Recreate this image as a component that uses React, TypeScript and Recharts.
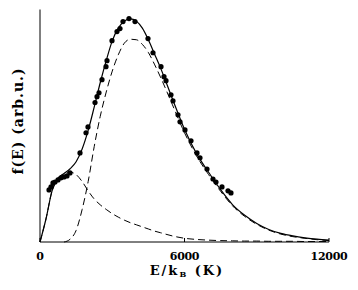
import React from "react";
import {
  ComposedChart,
  Line,
  Scatter,
  XAxis,
  YAxis,
} from "recharts";

// energy grid for the fitted curves (K)
const energies = [
  0, 250, 500, 750, 1000, 1250, 1500, 1750, 2000, 2250, 2500, 2750, 3000,
  3250, 3500, 3750, 4000, 4250, 4500, 4750, 5000, 5500, 6000, 6500, 7000,
  7500, 8000, 8500, 9000, 9500, 10000, 10500, 11000, 11500, 12000,
];

// total fit (solid)
const fitTotal = [
  0, 0.1, 0.22, 0.275, 0.295, 0.315, 0.345, 0.4, 0.48, 0.58, 0.685, 0.78,
  0.865, 0.92, 0.95, 0.96, 0.95, 0.92, 0.87, 0.81, 0.75, 0.615, 0.485, 0.38,
  0.3, 0.225, 0.16, 0.115, 0.08, 0.054, 0.037, 0.026, 0.018, 0.012, 0.008,
];

// narrow (high energy) component, dashed
const narrowPart = [
  null, null, null, null, 0, 0.012, 0.05, 0.14, 0.26, 0.41, 0.54, 0.645,
  0.735, 0.805, 0.855, 0.872, 0.87, 0.85, 0.815, 0.765, 0.71, 0.59, 0.47,
  0.37, 0.29, 0.218, 0.155, 0.11, 0.076, 0.051, 0.034, 0.023, 0.016, 0.01,
  0.006,
];

// broad (low energy) component, dashed
const broadPart = [
  0, 0.1, 0.22, 0.275, 0.292, 0.3, 0.29, 0.26, 0.22, 0.185, 0.16, 0.14,
  0.122, 0.107, 0.094, 0.083, 0.074, 0.065, 0.056, 0.047, 0.04, 0.026, 0.016,
  0.011, 0.008, 0.006, 0.005, 0.004, 0.004, 0.003, 0.003, 0.003, 0.002,
  0.002, 0.002,
];

// measured points
const measuredE = [
  374, 457, 540, 623, 747, 872, 996, 1121, 1246, 1661, 1910, 1993, 2284,
  2367, 2450, 2574, 2740, 2782, 2989, 3197, 3322, 3446, 3695, 3944, 4484,
  4692, 5024, 5149, 5232, 5439, 5522, 5730, 5813, 6020, 6270, 6519, 6643,
  6934, 7183, 7308, 7557, 7806, 7930,
];
const measuredF = [
  0.224, 0.237, 0.254, 0.258, 0.267, 0.276, 0.28, 0.284, 0.297, 0.383, 0.47,
  0.495, 0.6, 0.625, 0.642, 0.698, 0.754, 0.78, 0.866, 0.905, 0.918, 0.948,
  0.961, 0.948, 0.875, 0.814, 0.754, 0.711, 0.694, 0.633, 0.607, 0.547,
  0.517, 0.482, 0.435, 0.383, 0.362, 0.314, 0.271, 0.258, 0.237, 0.22, 0.211,
];

const xTicks = [0, 6000, 12000];

const chartData = energies.map((e, i) => ({
  e,
  total: fitTotal[i],
  narrow: narrowPart[i],
  broad: broadPart[i],
}));

const points = measuredE.map((e, i) => ({ e, f: measuredF[i] }));

const font = "'DejaVu Serif', serif";

const BottomTick = (props: any) => {
  const { x, y, payload } = props;
  return (
    <g>
      <line x1={x} x2={x} y1={y} y2={y - 4} stroke="#000" />
      <text
        x={x}
        y={y + 18}
        textAnchor="middle"
        fontFamily={font}
        fontWeight="bold"
        fontSize={11}
        letterSpacing={-0.3}
        fill="#000"
      >
        {payload.value}
      </text>
    </g>
  );
};

const XLabel = () => (
  <text
    x={187}
    y={275}
    textAnchor="middle"
    fontFamily={font}
    fontWeight="bold"
    fontSize={13}
    letterSpacing={2}
    fill="#000"
  >
    <tspan>E/k</tspan>
    <tspan fontSize={8} dy={2}>B</tspan>
    <tspan dy={-2}>{"  (K)"}</tspan>
  </text>
);

const YLabel = () => (
  <text
    x={17.5}
    y={121}
    transform="rotate(-90 17.5 121)"
    textAnchor="middle"
    dominantBaseline="central"
    fontFamily={font}
    fontWeight="bold"
    fontSize={14}
    letterSpacing={1}
    fill="#000"
  >
    f(E) (arb.u.)
  </text>
);

export default function App() {
  return (
    <div style={{ position: "absolute", left: 0, top: 0, background: "#fff" }}>
      <ComposedChart
        width={358}
        height={290}
        data={chartData}
        margin={{ top: 9.5, right: 29, left: 0, bottom: 0 }}
      >
        <XAxis
          dataKey="e"
          type="number"
          domain={[0, 12000]}
          ticks={xTicks}
          height={48}
          tickSize={0}
          tickMargin={0}
          tickLine={false}
          tick={<BottomTick />}
          axisLine={{ stroke: "#000" }}
          label={<XLabel />}
          interval={0}
        />
        <XAxis
          xAxisId="top"
          orientation="top"
          dataKey="e"
          type="number"
          domain={[0, 12000]}
          height={0}
          tick={false}
          tickLine={false}
          axisLine={{ stroke: "#000" }}
        />
        <YAxis
          type="number"
          domain={[0, 1]}
          width={40}
          tick={false}
          tickLine={false}
          axisLine={{ stroke: "#000" }}
          label={<YLabel />}
        />
        <YAxis
          yAxisId="right"
          orientation="right"
          type="number"
          domain={[0, 1]}
          width={0}
          tick={false}
          tickLine={false}
          axisLine={{ stroke: "#000" }}
        />
        <Line
          type="monotone"
          dataKey="broad"
          stroke="#000"
          strokeWidth={1}
          strokeDasharray="7 4"
          dot={false}
          isAnimationActive={false}
        />
        <Line
          type="monotone"
          dataKey="narrow"
          stroke="#000"
          strokeWidth={1}
          strokeDasharray="7 4"
          dot={false}
          connectNulls={false}
          isAnimationActive={false}
        />
        <Line
          type="monotone"
          dataKey="total"
          stroke="#000"
          strokeWidth={1.2}
          dot={false}
          isAnimationActive={false}
        />
        <Scatter
          data={points}
          dataKey="f"
          fill="#000"
          shape={(p: any) => <circle cx={p.cx} cy={p.cy} r={2.6} fill="#000" />}
          isAnimationActive={false}
        />
      </ComposedChart>
    </div>
  );
}
